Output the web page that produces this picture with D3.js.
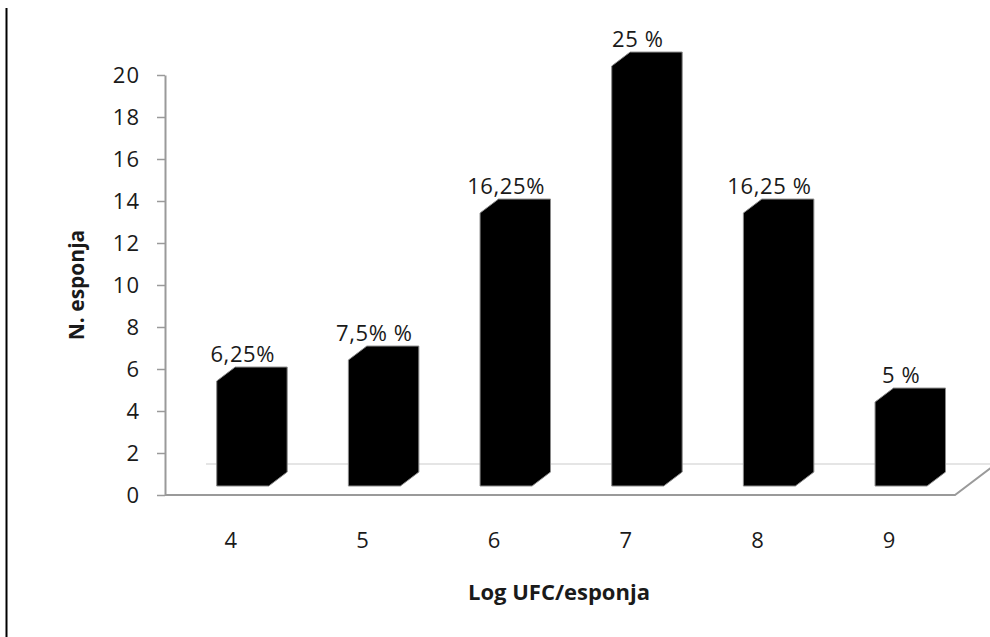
<!DOCTYPE html>
<html>
<head>
<meta charset="utf-8">
<script src="https://cdn.jsdelivr.net/npm/d3@7"></script>
<style>
  html, body { margin: 0; padding: 0; background: #fff; }
  svg { display: block; }
  text { font-family: "Open Sans", "Noto Sans", sans-serif; fill: #1a1a1a; }
</style>
</head>
<body>
<svg id="chart" width="990" height="637"></svg>
<script>
// Sponge counts per log UFC class
const categories = ["4", "5", "6", "7", "8", "9"];
const counts = [5, 6, 13, 20, 13, 4];
const pctLabels = ["6,25%", "7,5% %", "16,25%", "25 %", "16,25 %", "5 %"];
const yTicks = [0, 2, 4, 6, 8, 10, 12, 14, 16, 18, 20];

const svg = d3.select("#chart");

// Plot frame (front plane of the 3D floor)
const plotLeft = 165, plotRight = 955, plotBottom = 495, plotTop = 75;
// Full floor depth offset (oblique projection)
const DX = 41, DY = 31;
// Bars sit between these fractions of the depth
const dFront = 0.29, dBack = 0.74;

const x = d3.scaleBand().domain(categories).range([plotLeft, plotRight]).padding(0);
const y = d3.scaleLinear().domain([0, 20]).range([plotBottom, plotTop]);

const shift = d => [d * DX, d * DY];

// Outer border on the left
svg.append("line")
  .attr("x1", 6.5).attr("x2", 6.5).attr("y1", 8).attr("y2", 637)
  .attr("stroke", "#000").attr("stroke-width", 2);

// Floor: back edge, front edge and right side
const [bx, by] = shift(1);
svg.append("line")
  .attr("x1", plotLeft + bx).attr("x2", plotRight + bx)
  .attr("y1", y(0) - by).attr("y2", y(0) - by)
  .attr("stroke", "#dcdcdc").attr("stroke-width", 1.5);
svg.append("path")
  .attr("d", d3.line()([[plotLeft, y(0)], [plotRight, y(0)], [plotRight + bx, y(0) - by]]))
  .attr("fill", "none").attr("stroke", "#9a9a9a").attr("stroke-width", 2);

// Vertical axis
const yAxis = d3.axisLeft(y).tickValues(yTicks).tickSize(8).tickSizeOuter(0).tickPadding(17);
const gy = svg.append("g").attr("transform", `translate(${plotLeft},0)`).call(yAxis);
gy.select(".domain").attr("stroke", "#9a9a9a").attr("stroke-width", 2);
gy.selectAll(".tick line").attr("stroke", "#9a9a9a").attr("stroke-width", 1.5);
gy.selectAll(".tick text")
  .style("font-family", '"Open Sans", sans-serif')
  .style("font-size", "22px").style("letter-spacing", "1px").attr("fill", "#1a1a1a");

// Category labels under the floor
svg.append("g").selectAll("text")
  .data(categories)
  .join("text")
  .attr("x", d => x(d) + x.bandwidth() / 2)
  .attr("y", 548)
  .attr("text-anchor", "middle")
  .style("font-size", "22px")
  .text(d => d);

// 3D bars (prism outline filled black)
const barW = x.bandwidth() * 0.395;
const [fx, fy] = shift(dFront);
const [kx, ky] = shift(dBack);

const bars = categories.map((c, i) => {
  const xl = x(c) + (x.bandwidth() - barW) / 2;
  const xr = xl + barW;
  const y0 = y(0), yv = y(counts[i]);
  return {
    cx: (xl + xr) / 2 + fx,
    topBack: yv - ky,
    label: pctLabels[i],
    pts: [
      [xl + fx, y0 - fy],
      [xl + fx, yv - fy],
      [xl + kx, yv - ky],
      [xr + kx, yv - ky],
      [xr + kx, y0 - ky],
      [xr + fx, y0 - fy]
    ]
  };
});

svg.append("g").selectAll("path")
  .data(bars)
  .join("path")
  .attr("d", d => d3.line()(d.pts) + "Z")
  .attr("fill", "#000")
  .attr("stroke", "#8a8a8a")
  .attr("stroke-width", 1);

// Percentage labels above the bars
svg.append("g").selectAll("text")
  .data(bars)
  .join("text")
  .attr("x", d => d.cx)
  .attr("y", d => d.topBack - 5)
  .attr("text-anchor", "middle")
  .style("font-size", "22px")
  .style("letter-spacing", "0.6px")
  .text(d => d.label);

// Axis titles
svg.append("text")
  .attr("transform", `translate(84,${(y(0) + y(20)) / 2}) rotate(-90)`)
  .attr("text-anchor", "middle")
  .style("font-size", "21px").style("font-weight", "bold")
  .text("N. esponja");

svg.append("text")
  .attr("x", 559).attr("y", 600)
  .attr("text-anchor", "middle")
  .style("font-size", "22px").style("font-weight", "bold")
  .text("Log UFC/esponja");
</script>
</body>
</html>
